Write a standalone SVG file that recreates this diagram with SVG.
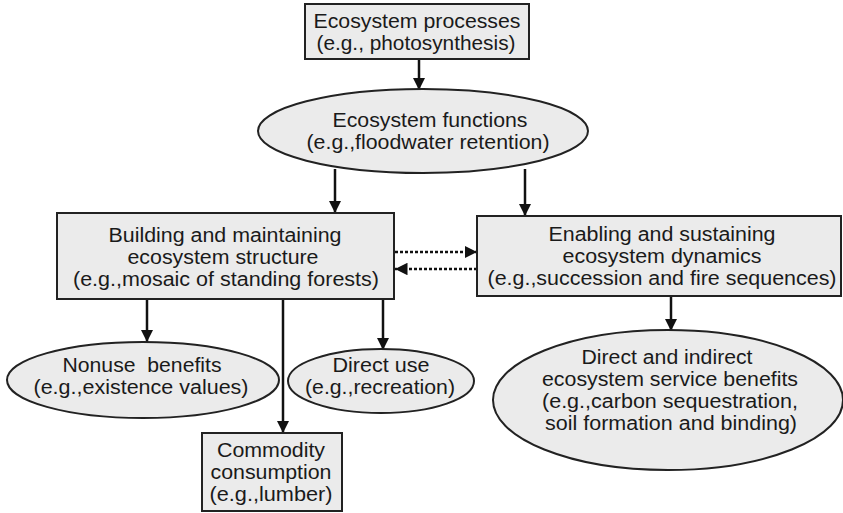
<svg xmlns="http://www.w3.org/2000/svg" width="843" height="513" viewBox="0 0 843 513">
<style>
.n{fill:#ebebeb;stroke:#222;stroke-width:2}
.t{font-family:"Liberation Sans",Arial,sans-serif;font-size:19.5px;fill:#1a1a1a;text-anchor:middle}
.c{stroke:#111;stroke-width:2.5;fill:none}
.d{stroke:#111;stroke-width:2.5;fill:none;stroke-dasharray:3 2}
</style>
<defs>
<marker id="ah" viewBox="0 0 10 10" refX="10" refY="5" markerWidth="5" markerHeight="5" markerUnits="strokeWidth" orient="auto">
<path d="M0,0 L10,5 L0,10 z" fill="#111"/>
</marker>
</defs>
<rect width="843" height="513" fill="#fff"/>
<g id="connectors">
<line class="c" x1="419" y1="59" x2="419" y2="90" marker-end="url(#ah)"/>
<line class="c" x1="335" y1="169" x2="335" y2="213" marker-end="url(#ah)"/>
<line class="c" x1="525" y1="169" x2="525" y2="216" marker-end="url(#ah)"/>
<line class="d" x1="395" y1="252" x2="477" y2="252" marker-end="url(#ah)"/>
<line class="d" x1="477" y1="269" x2="395" y2="269" marker-end="url(#ah)"/>
<line class="c" x1="147" y1="299" x2="147" y2="342" marker-end="url(#ah)"/>
<line class="c" x1="283" y1="299" x2="283" y2="433" marker-end="url(#ah)"/>
<line class="c" x1="383" y1="299" x2="383" y2="350" marker-end="url(#ah)"/>
<line class="c" x1="671" y1="296" x2="671" y2="331" marker-end="url(#ah)"/>
</g>
<g id="processes">
<rect class="n" x="305" y="4" width="224" height="55"/>
<text class="t" x="417" y="28" textLength="207" lengthAdjust="spacingAndGlyphs">Ecosystem processes</text>
<text class="t" x="416" y="50" textLength="199" lengthAdjust="spacingAndGlyphs">(e.g., photosynthesis)</text>
</g>
<g id="functions">
<ellipse class="n" cx="423" cy="131" rx="165" ry="42"/>
<text class="t" x="430" y="127" textLength="195" lengthAdjust="spacingAndGlyphs">Ecosystem functions</text>
<text class="t" x="428" y="149" textLength="243" lengthAdjust="spacingAndGlyphs">(e.g.,floodwater retention)</text>
</g>
<g id="structure">
<rect class="n" x="57" y="213" width="337" height="86"/>
<text class="t" x="225" y="242" textLength="233" lengthAdjust="spacingAndGlyphs">Building and maintaining</text>
<text class="t" x="223" y="264" textLength="191" lengthAdjust="spacingAndGlyphs">ecosystem structure</text>
<text class="t" x="226" y="286" textLength="306" lengthAdjust="spacingAndGlyphs">(e.g.,mosaic of standing forests)</text>
</g>
<g id="dynamics">
<rect class="n" x="477" y="216" width="364" height="80"/>
<text class="t" x="662" y="241" textLength="227" lengthAdjust="spacingAndGlyphs">Enabling and sustaining</text>
<text class="t" x="662" y="263" textLength="199" lengthAdjust="spacingAndGlyphs">ecosystem dynamics</text>
<text class="t" x="662" y="285" textLength="349" lengthAdjust="spacingAndGlyphs">(e.g.,succession and fire sequences)</text>
</g>
<g id="nonuse">
<ellipse class="n" cx="143" cy="380" rx="136" ry="38"/>
<text class="t" x="142" y="372" textLength="159" lengthAdjust="spacingAndGlyphs">Nonuse&#160; benefits</text>
<text class="t" x="141" y="394" textLength="215" lengthAdjust="spacingAndGlyphs">(e.g.,existence values)</text>
</g>
<g id="directuse">
<ellipse class="n" cx="381" cy="381" rx="93" ry="32"/>
<text class="t" x="381" y="372" textLength="97" lengthAdjust="spacingAndGlyphs">Direct use</text>
<text class="t" x="380" y="394" textLength="150" lengthAdjust="spacingAndGlyphs">(e.g.,recreation)</text>
</g>
<g id="commodity">
<rect class="n" x="202" y="433" width="140" height="78"/>
<text class="t" x="271" y="457" textLength="108" lengthAdjust="spacingAndGlyphs">Commodity</text>
<text class="t" x="271" y="479" textLength="121" lengthAdjust="spacingAndGlyphs">consumption</text>
<text class="t" x="271" y="501" textLength="123" lengthAdjust="spacingAndGlyphs">(e.g.,lumber)</text>
</g>
<g id="services">
<ellipse class="n" cx="668" cy="400" rx="175" ry="70"/>
<text class="t" x="667" y="364" textLength="171" lengthAdjust="spacingAndGlyphs">Direct and indirect</text>
<text class="t" x="670" y="386" textLength="256" lengthAdjust="spacingAndGlyphs">ecosystem service benefits</text>
<text class="t" x="670" y="408" textLength="256" lengthAdjust="spacingAndGlyphs">(e.g.,carbon sequestration,</text>
<text class="t" x="671" y="430" textLength="252" lengthAdjust="spacingAndGlyphs">soil formation and binding)</text>
</g>
</svg>
